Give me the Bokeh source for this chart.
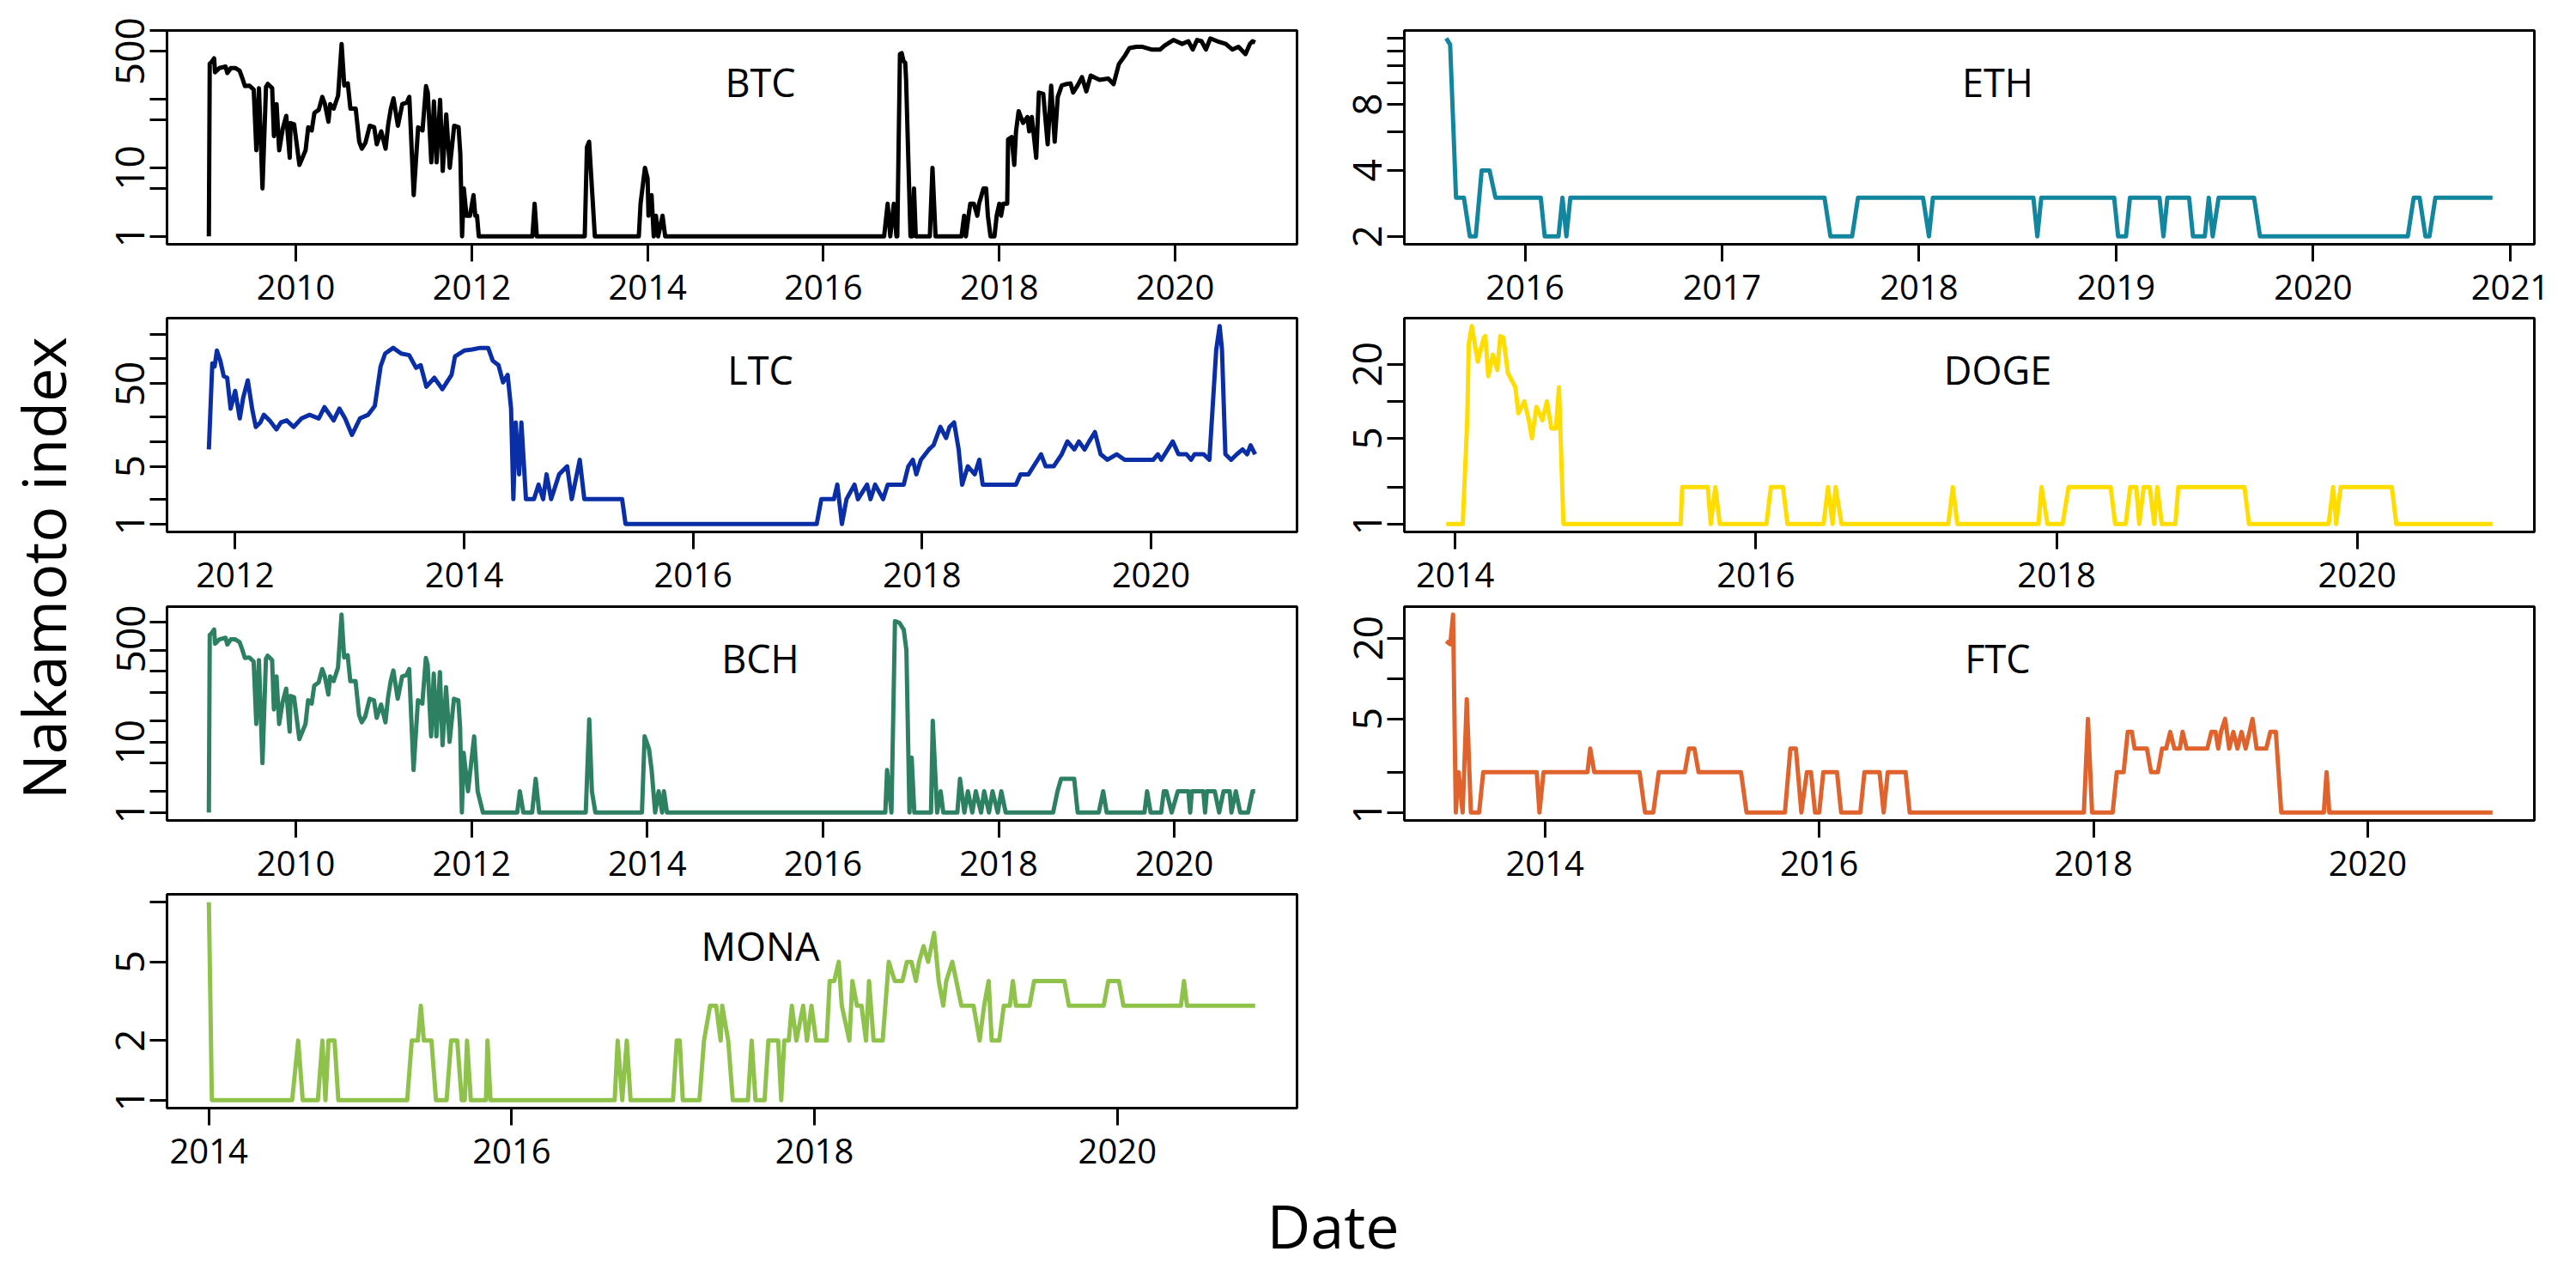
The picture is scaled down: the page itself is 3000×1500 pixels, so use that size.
import math
from bokeh.plotting import figure
from bokeh.models import FixedTicker, Range1d, Label
from bokeh.layouts import row, column
from bokeh.embed import file_html
from bokeh.resources import INLINE

FONT = "Open Sans"

# ---------------- data (decimal year, Nakamoto index) ----------------
# BTC and BCH share the chain history up to late 2011
shared_t = [2009.01, 2009.02, 2009.04, 2009.07, 2009.08, 2009.13, 2009.20, 2009.22, 2009.26, 2009.31,
            2009.36, 2009.39, 2009.42, 2009.47, 2009.52, 2009.55, 2009.58, 2009.62, 2009.66, 2009.68,
            2009.73, 2009.75, 2009.78, 2009.81, 2009.85, 2009.89, 2009.93, 2009.94, 2009.98, 2010.04,
            2010.11, 2010.14, 2010.18, 2010.21, 2010.26, 2010.30, 2010.33, 2010.37, 2010.39, 2010.43,
            2010.48, 2010.52, 2010.55, 2010.59, 2010.62, 2010.68, 2010.72, 2010.75, 2010.79, 2010.84,
            2010.89, 2010.92, 2010.97, 2011.02, 2011.05, 2011.08, 2011.11, 2011.16, 2011.21, 2011.26,
            2011.29, 2011.34, 2011.39, 2011.44, 2011.48, 2011.50, 2011.54, 2011.57, 2011.60, 2011.64,
            2011.67, 2011.71, 2011.75, 2011.80, 2011.85, 2011.87, 2011.89]
shared_v = [1, 330, 346, 394, 247, 285, 300, 241, 285, 285,
            260, 204, 155, 158, 138, 18, 145, 5, 152, 167,
            145, 29, 85, 18, 37, 57, 14, 45, 43, 11,
            18, 39, 35, 63, 70, 108, 85, 47, 85, 73,
            113, 640, 158, 170, 73, 73, 24, 19, 23, 41,
            39, 22, 34, 19, 43, 73, 103, 41, 85, 89,
            108, 4, 39, 35, 155, 125, 12, 93, 12, 98,
            9, 60, 10, 41, 39, 16, 1]

btc_post_t = [2011.91, 2011.94, 2011.98, 2012.02, 2012.04, 2012.06, 2012.08, 2012.69, 2012.715, 2012.74,
              2013.285, 2013.31, 2013.335, 2013.40, 2013.90, 2013.92, 2013.97, 2014.00, 2014.01, 2014.045,
              2014.07, 2014.095, 2014.12, 2014.17, 2014.20, 2016.69, 2016.73, 2016.76, 2016.80, 2016.83,
              2016.84, 2016.87, 2016.89, 2016.91, 2016.93, 2016.94, 2016.99, 2017.01, 2017.03, 2017.05,
              2017.21, 2017.24, 2017.275, 2017.57, 2017.60, 2017.62, 2017.65, 2017.67, 2017.71, 2017.75,
              2017.77, 2017.82, 2017.85, 2017.87, 2017.90, 2017.945, 2017.97, 2018.00, 2018.02, 2018.045,
              2018.09, 2018.10, 2018.14, 2018.17, 2018.19, 2018.22, 2018.27, 2018.32, 2018.34, 2018.37,
              2018.42, 2018.45, 2018.50, 2018.55, 2018.59, 2018.63, 2018.665, 2018.71, 2018.76, 2018.81,
              2018.84, 2018.89, 2018.94, 2018.99, 2019.04, 2019.14, 2019.24, 2019.30, 2019.36, 2019.43,
              2019.48, 2019.56, 2019.63, 2019.73, 2019.83, 2019.88, 2019.98, 2020.08, 2020.15, 2020.20,
              2020.25, 2020.30, 2020.35, 2020.40, 2020.48, 2020.575, 2020.65, 2020.72, 2020.80, 2020.85,
              2020.88, 2020.91]
btc_post_v = [5, 2, 2, 4, 2, 2, 1, 1, 3, 1,
              1, 20, 24, 1, 1, 3, 10, 7, 2, 4,
              1, 2, 1, 2, 1, 1, 3, 1, 3, 1,
              1, 455, 470, 360, 340, 192, 1, 1, 5, 1,
              1, 10, 1, 1, 2, 1, 2, 3, 3, 2,
              3, 5, 5, 2, 1, 1, 2, 3, 2, 3,
              3, 26, 28, 11, 34, 67, 45, 55, 34, 55,
              14, 125, 119, 22, 158, 24, 108, 158, 166, 170,
              125, 158, 210, 130, 221, 192, 200, 166, 325, 434,
              556, 580, 580, 530, 530, 604, 730, 640, 700, 530,
              730, 700, 530, 770, 700, 640, 530, 580, 455, 640,
              700, 670]

bch_post_t = [2011.91, 2011.96, 2012.03, 2012.07, 2012.13, 2012.52, 2012.55, 2012.59, 2012.69, 2012.73,
              2012.77, 2013.30, 2013.34, 2013.37, 2013.41, 2013.94, 2013.97, 2014.02, 2014.05, 2014.09,
              2014.13, 2014.17, 2014.19, 2014.225, 2016.71, 2016.73, 2016.78, 2016.82, 2016.87, 2016.92,
              2016.95, 2016.985, 2017.01, 2017.04, 2017.23, 2017.25, 2017.30, 2017.34, 2017.37, 2017.53,
              2017.56, 2017.61, 2017.65, 2017.70, 2017.74, 2017.80, 2017.835, 2017.89, 2017.93, 2017.99,
              2018.03, 2018.08, 2018.62, 2018.67, 2018.71, 2018.86, 2018.90, 2019.14, 2019.19, 2019.23,
              2019.66, 2019.69, 2019.73, 2019.85, 2019.88, 2019.91, 2019.97, 2020.04, 2020.16, 2020.18,
              2020.20, 2020.33, 2020.35, 2020.37, 2020.46, 2020.51, 2020.56, 2020.63, 2020.65, 2020.70,
              2020.75, 2020.84, 2020.89, 2020.92]
bch_post_v = [7, 2, 12, 2, 1, 1, 2, 1, 1, 3,
              1, 1, 21, 2, 1, 1, 12, 8, 4, 1,
              2, 1, 2, 1, 1, 4, 1, 515, 490, 390,
              200, 1, 6, 1, 1, 20, 1, 2, 1, 1,
              3, 1, 2, 1, 2, 1, 2, 1, 2, 1,
              2, 1, 1, 2, 3, 3, 1, 1, 2, 1,
              1, 2, 1, 1, 2, 2, 1, 2, 2, 1,
              2, 2, 1, 2, 2, 1, 2, 2, 1, 2,
              1, 1, 2, 2]

eth_t = [2015.60, 2015.62, 2015.65, 2015.69, 2015.72, 2015.75, 2015.78, 2015.82, 2015.85, 2016.08,
         2016.10, 2016.17, 2016.19, 2016.21, 2016.23, 2017.52, 2017.55, 2017.66, 2017.69, 2018.02,
         2018.05, 2018.07, 2018.58, 2018.60, 2018.62, 2018.99, 2019.01, 2019.05, 2019.07, 2019.22,
         2019.24, 2019.26, 2019.37, 2019.39, 2019.45, 2019.47, 2019.49, 2019.52, 2019.70, 2019.73,
         2020.48, 2020.51, 2020.54, 2020.57, 2020.59, 2020.62, 2020.91]
eth_v = [16, 15, 3, 3, 2, 2, 4, 4, 3, 3,
         2, 2, 3, 2, 3, 3, 2, 2, 3, 3,
         2, 3, 3, 2, 3, 3, 2, 2, 3, 3,
         2, 3, 3, 2, 2, 3, 2, 3, 3, 2,
         2, 3, 3, 2, 2, 3, 3]

ltc_t = [2011.77, 2011.80, 2011.82, 2011.84, 2011.87, 2011.90, 2011.93, 2011.96, 2012.00, 2012.04,
         2012.07, 2012.11, 2012.15, 2012.18, 2012.22, 2012.25, 2012.30, 2012.36, 2012.40, 2012.45,
         2012.51, 2012.58, 2012.65, 2012.73, 2012.78, 2012.86, 2012.91, 2012.96, 2013.02, 2013.09,
         2013.16, 2013.22, 2013.27, 2013.31, 2013.38, 2013.45, 2013.52, 2013.58, 2013.62, 2013.67,
         2013.74, 2013.81, 2013.89, 2013.92, 2014.00, 2014.07, 2014.14, 2014.21, 2014.25, 2014.30,
         2014.34, 2014.38, 2014.41, 2014.43, 2014.45, 2014.48, 2014.50, 2014.54, 2014.61, 2014.65,
         2014.69, 2014.72, 2014.76, 2014.83, 2014.90, 2014.94, 2015.01, 2015.05, 2015.38, 2015.41,
         2017.08, 2017.12, 2017.23, 2017.26, 2017.30, 2017.34, 2017.41, 2017.44, 2017.52, 2017.55,
         2017.59, 2017.66, 2017.70, 2017.84, 2017.88, 2017.92, 2017.95, 2017.99, 2018.06, 2018.10,
         2018.16, 2018.21, 2018.24, 2018.28, 2018.32, 2018.35, 2018.40, 2018.46, 2018.50, 2018.53,
         2018.82, 2018.86, 2018.93, 2019.01, 2019.04, 2019.08, 2019.15, 2019.22, 2019.27, 2019.33,
         2019.37, 2019.42, 2019.46, 2019.51, 2019.56, 2019.62, 2019.70, 2019.77, 2019.84, 2020.02,
         2020.06, 2020.09, 2020.19, 2020.24, 2020.31, 2020.35, 2020.38, 2020.46, 2020.51, 2020.57,
         2020.60, 2020.62, 2020.65, 2020.70, 2020.75, 2020.80, 2020.84, 2020.87, 2020.91]
ltc_v = [8, 88, 81, 126, 95, 62, 59, 25, 41, 19,
         34, 55, 24, 15, 17, 21, 18, 14, 17, 18,
         15, 19, 21, 19, 26, 18, 25, 19, 12, 19,
         21, 27, 81, 116, 136, 116, 111, 78, 84, 46,
         59, 43, 64, 107, 126, 130, 136, 136, 95, 84,
         52, 64, 25, 2, 17, 4, 17, 2, 2, 3,
         2, 4, 2, 4, 5, 2, 6, 2, 2, 1,
         1, 2, 2, 3, 1, 2, 3, 2, 3, 2,
         3, 2, 3, 3, 5, 6, 4, 6, 8, 9,
         15, 11, 15, 17, 8, 3, 5, 4, 6, 3,
         3, 4, 4, 6, 7, 5, 5, 7, 10, 8,
         10, 8, 10, 13, 7, 6, 7, 6, 6, 6,
         7, 6, 10, 7, 7, 6, 7, 7, 6, 130,
         250, 130, 7, 6, 7, 8, 7, 9, 7]

doge_t = [2013.94, 2014.05, 2014.08, 2014.09, 2014.11, 2014.15, 2014.19, 2014.20, 2014.22, 2014.25,
          2014.28, 2014.30, 2014.32, 2014.35, 2014.40, 2014.42, 2014.46, 2014.49, 2014.51, 2014.54,
          2014.58, 2014.61, 2014.64, 2014.67, 2014.69, 2014.72, 2015.50, 2015.51, 2015.68, 2015.70,
          2015.73, 2015.76, 2016.07, 2016.10, 2016.18, 2016.21, 2016.45, 2016.48, 2016.51, 2016.53,
          2016.57, 2017.28, 2017.31, 2017.34, 2017.88, 2017.90, 2017.94, 2018.04, 2018.08, 2018.36,
          2018.39, 2018.46, 2018.49, 2018.53, 2018.55, 2018.58, 2018.62, 2018.65, 2018.67, 2018.70,
          2018.79, 2018.81, 2019.25, 2019.28, 2019.81, 2019.84, 2019.86, 2019.89, 2020.23, 2020.26,
          2020.90]
doge_v = [1, 1, 7, 29, 41, 21, 33, 34, 16, 24,
          18, 34, 33, 17, 13, 8, 10, 7, 5, 9,
          7, 10, 6, 6, 13, 1, 1, 2, 2, 1,
          2, 1, 1, 2, 2, 1, 1, 2, 1, 2,
          1, 1, 2, 1, 1, 2, 1, 1, 2, 2,
          1, 1, 2, 2, 1, 2, 2, 1, 2, 1,
          1, 2, 2, 1, 1, 2, 1, 2, 2, 1,
          1]

ftc_t = [2013.28, 2013.31, 2013.33, 2013.35, 2013.37, 2013.40, 2013.43, 2013.46, 2013.52, 2013.55,
         2013.94, 2013.96, 2013.99, 2014.31, 2014.33, 2014.36, 2014.69, 2014.73, 2014.79, 2014.83,
         2015.02, 2015.05, 2015.09, 2015.12, 2015.43, 2015.47, 2015.75, 2015.79, 2015.83, 2015.87,
         2015.91, 2015.94, 2015.97, 2016.00, 2016.03, 2016.13, 2016.16, 2016.30, 2016.33, 2016.44,
         2016.47, 2016.50, 2016.63, 2016.66, 2017.93, 2017.96, 2017.99, 2018.14, 2018.17, 2018.22,
         2018.25, 2018.28, 2018.30, 2018.39, 2018.42, 2018.47, 2018.50, 2018.53, 2018.56, 2018.59,
         2018.63, 2018.65, 2018.68, 2018.83, 2018.86, 2018.89, 2018.91, 2018.93, 2018.96, 2018.99,
         2019.02, 2019.05, 2019.08, 2019.11, 2019.16, 2019.19, 2019.26, 2019.29, 2019.33, 2019.37,
         2019.68, 2019.70, 2019.72, 2020.91]
ftc_v = [19, 18, 30, 1, 2, 1, 7, 1, 1, 2,
         2, 1, 2, 2, 3, 2, 2, 1, 1, 2,
         2, 3, 3, 2, 2, 1, 1, 3, 3, 1,
         2, 2, 1, 1, 2, 2, 1, 1, 2, 2,
         1, 2, 2, 1, 1, 5, 1, 1, 2, 2,
         4, 4, 3, 3, 2, 2, 3, 3, 4, 3,
         3, 4, 3, 3, 4, 4, 3, 4, 5, 3,
         4, 3, 4, 3, 5, 3, 3, 4, 4, 1,
         1, 2, 1, 1]

mona_t = [2014.00, 2014.02, 2014.55, 2014.59, 2014.62, 2014.72, 2014.75, 2014.77, 2014.79, 2014.83,
          2014.855, 2015.31, 2015.34, 2015.38, 2015.40, 2015.42, 2015.47, 2015.50, 2015.57, 2015.60,
          2015.64, 2015.67, 2015.69, 2015.705, 2015.73, 2015.83, 2015.84, 2015.86, 2016.68, 2016.70,
          2016.73, 2016.76, 2016.785, 2017.065, 2017.09, 2017.11, 2017.13, 2017.24, 2017.27, 2017.31,
          2017.35, 2017.38, 2017.39, 2017.43, 2017.46, 2017.56, 2017.585, 2017.61, 2017.67, 2017.695,
          2017.76, 2017.78, 2017.80, 2017.83, 2017.85, 2017.88, 2017.925, 2017.95, 2017.98, 2018.01,
          2018.08, 2018.10, 2018.13, 2018.16, 2018.18, 2018.23, 2018.25, 2018.28, 2018.31, 2018.34,
          2018.36, 2018.39, 2018.45, 2018.49, 2018.53, 2018.58, 2018.61, 2018.64, 2018.67, 2018.69,
          2018.72, 2018.75, 2018.79, 2018.82, 2018.85, 2018.87, 2018.91, 2018.97, 2019.05, 2019.09,
          2019.12, 2019.15, 2019.17, 2019.22, 2019.25, 2019.29, 2019.31, 2019.33, 2019.42, 2019.45,
          2019.65, 2019.68, 2019.91, 2019.94, 2020.01, 2020.04, 2020.42, 2020.44, 2020.46, 2020.91]
mona_v = [10, 1, 1, 2, 1, 1, 2, 1, 2, 2,
          1, 1, 2, 2, 3, 2, 2, 1, 1, 2,
          2, 1, 1, 2, 1, 1, 2, 1, 1, 2,
          1, 2, 1, 1, 2, 2, 1, 1, 2, 3,
          3, 2, 3, 2, 1, 1, 2, 1, 1, 2,
          2, 1, 2, 2, 3, 2, 3, 2, 3, 2,
          2, 4, 4, 5, 3, 2, 4, 3, 3, 2,
          4, 2, 2, 5, 4, 4, 5, 5, 4, 5,
          6, 5, 7, 4, 3, 4, 5, 3, 3, 2,
          3, 4, 2, 2, 3, 3, 4, 3, 3, 4,
          4, 3, 3, 4, 4, 3, 3, 4, 3, 3]

btc_t, btc_v = shared_t + btc_post_t, shared_v + btc_post_v
bch_t, bch_v = shared_t + bch_post_t, shared_v + bch_post_v

# tick values and the labels that are printed
btc_yticks, btc_ylabels = [1, 5, 10, 50, 100, 500, 1000], ["1", "", "10", "", "", "500", ""]
eth_yticks, eth_ylabels = [2, 4, 6, 8, 10, 12, 14, 16], ["2", "4", "", "8", "", "", "", ""]
ltc_yticks, ltc_ylabels = [1, 2, 5, 10, 20, 50, 100, 200], ["1", "", "5", "", "", "50", "", ""]
doge_yticks, doge_ylabels = [1, 2, 5, 10, 20], ["1", "", "5", "", "20"]
bch_yticks, bch_ylabels = [1, 2, 5, 10, 20, 50, 100, 200, 500], ["1", "", "", "10", "", "", "", "", "500"]
ftc_yticks, ftc_ylabels = [1, 2, 5, 10, 20], ["1", "", "5", "", "20"]
mona_yticks, mona_ylabels = [1, 2, 5, 10], ["1", "2", "5", ""]
even_years = [2010, 2012, 2014, 2016, 2018, 2020]
eth_years = [2016, 2017, 2018, 2019, 2020, 2021]

colors = {"BTC": "#000000", "ETH": "#13869f", "LTC": "#0a2ea6", "DOGE": "#ffdd00",
          "BCH": "#2d8062", "FTC": "#e0632d", "MONA": "#8fc24a"}

FW, FH, MB = 1316, 249, 85


def make_panel(name, t, v, yticks, ylabels, xticks, left, right, top):
    t0, t1 = min(t), max(t)
    pt = 0.04 * (t1 - t0)
    lo, hi = math.log10(min(v)), math.log10(max(v))
    pv = 0.04 * (hi - lo)
    p = figure(frame_width=FW, frame_height=FH,
               x_range=Range1d(t0 - pt, t1 + pt),
               y_range=Range1d(10 ** (lo - pv), 10 ** (hi + pv)),
               y_axis_type="log", output_backend="svg", toolbar_location=None,
               min_border_left=left, min_border_right=right,
               min_border_top=top, min_border_bottom=MB,
               background_fill_color="white", border_fill_color="white")
    p.line(t, v, line_width=5, line_color=colors[name], line_join="round")
    p.grid.visible = False
    p.outline_line_color = "black"
    p.outline_line_width = 3
    for ax in (p.xaxis[0], p.yaxis[0]):
        ax.axis_line_color = None
        ax.major_tick_line_color = "black"
        ax.major_tick_line_width = 3
        ax.major_tick_out = 20
        ax.major_tick_in = 0
        ax.minor_tick_line_color = None
        ax.major_label_text_font = FONT
        ax.major_label_text_color = "black"
    p.xaxis.ticker = FixedTicker(ticks=xticks)
    p.xaxis.major_label_text_font_size = "40px"
    p.xaxis.major_label_standoff = 15
    p.yaxis.ticker = FixedTicker(ticks=yticks)
    p.yaxis.major_label_overrides = {k: s for k, s in zip(yticks, ylabels)}
    p.yaxis.major_label_orientation = "vertical"
    p.yaxis.major_label_text_font_size = "46px"
    p.yaxis.major_label_standoff = 6
    p.add_layout(Label(x=691, y=FH - 60, x_units="screen", y_units="screen", text=name,
                       text_align="center", text_baseline="middle", text_font=FONT,
                       text_font_size="45px", text_color="black"))
    return p


LL, LR, RL, RR = 94, 25, 100, 25
p_btc = make_panel("BTC", btc_t, btc_v, btc_yticks, btc_ylabels, even_years, LL, LR, 35)
p_eth = make_panel("ETH", eth_t, eth_v, eth_yticks, eth_ylabels, eth_years, RL, RR, 35)
p_ltc = make_panel("LTC", ltc_t, ltc_v, ltc_yticks, ltc_ylabels, even_years, LL, LR, 1)
p_doge = make_panel("DOGE", doge_t, doge_v, doge_yticks, doge_ylabels, even_years, RL, RR, 1)
p_bch = make_panel("BCH", bch_t, bch_v, bch_yticks, bch_ylabels, even_years, LL, LR, 2)
p_ftc = make_panel("FTC", ftc_t, ftc_v, ftc_yticks, ftc_ylabels, even_years, RL, RR, 2)
p_mona = make_panel("MONA", mona_t, mona_v, mona_yticks, mona_ylabels, even_years, LL, LR, 1)

GRID_H = (35 + FH + MB) + (1 + FH + MB) + (2 + FH + MB) + (1 + FH + MB)


def strip(w, h):
    s = figure(width=w, height=h, x_range=Range1d(0, w), y_range=Range1d(0, h),
               x_axis_location=None, y_axis_location=None, min_border=0,
               toolbar_location=None, output_backend="svg",
               outline_line_color=None, background_fill_color="white", border_fill_color="white")
    s.grid.visible = False
    return s


left = strip(100, GRID_H)
left.add_layout(Label(x=49, y=GRID_H - 661, text="Nakamoto index", angle=math.pi / 2,
                      text_align="center", text_baseline="middle", text_font=FONT,
                      text_font_size="70px", text_color="black"))
BOT_H = 1484 - 8 - GRID_H
bottom = strip(2984, BOT_H)
bottom.add_layout(Label(x=1552, y=BOT_H - 51, text="Date",
                        text_align="center", text_baseline="middle", text_font=FONT,
                        text_font_size="70px", text_color="black"))

grid = column(row(p_btc, p_eth), row(p_ltc, p_doge), row(p_bch, p_ftc), row(p_mona))
layout = column(row(left, grid), bottom)

open("out.html", "w").write(file_html(layout, INLINE))
